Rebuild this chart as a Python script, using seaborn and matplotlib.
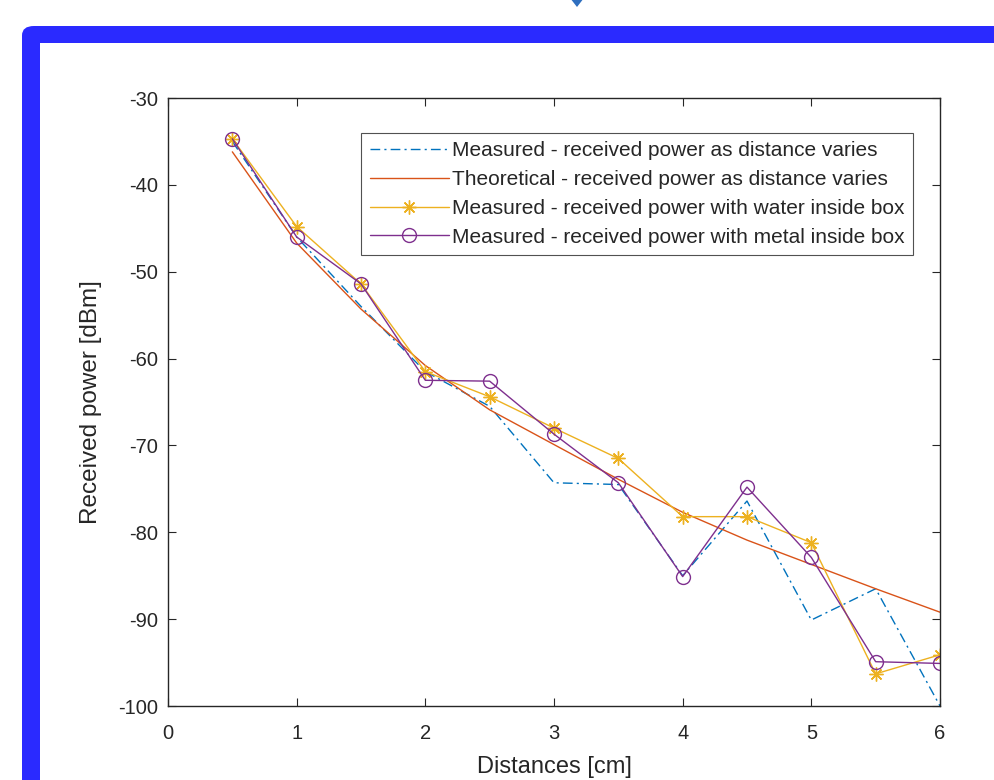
import numpy as np
import pandas as pd
import matplotlib
matplotlib.use("Agg")
import matplotlib.pyplot as plt
import seaborn as sns
from matplotlib.patches import FancyBboxPatch, Rectangle, Polygon

# values
distances = [0.5, 1.0, 1.5, 2.0, 2.5, 3.0, 3.5, 4.0, 4.5, 5.0, 5.5, 6.0]
measured = [-35.0, -46.0, -54.0, -61.5, -65.5, -74.3, -74.5, -85.0, -76.4, -90.1, -86.5, -100.0]
theoretical = [-36.2, -46.7, -54.3, -60.8, -65.9, -69.9, -73.9, -77.7, -80.9, -83.7, -86.5, -89.2]
water = [-34.7, -44.8, -51.4, -61.5, -64.4, -68.0, -71.5, -78.2, -78.2, -81.2, -96.3, -94.1]
metal = [-34.7, -46.0, -51.4, -62.5, -62.6, -68.7, -74.3, -85.1, -74.8, -82.9, -94.9, -95.1]

labels = [
    "Measured - received power as distance varies",
    "Theoretical - received power as distance varies",
    "Measured - received power with water inside box",
    "Measured - received power with metal inside box",
]
x_ticks = [0, 1, 2, 3, 4, 5, 6]
y_ticks = [-30, -40, -50, -60, -70, -80, -90, -100]

sns.set_style("ticks")
plt.rcParams["font.family"] = ["Liberation Sans", "DejaVu Sans"]
plt.rcParams["axes.unicode_minus"] = False

W, H = 994, 780
fig = plt.figure(figsize=(W / 100, H / 100), dpi=100)

# blue screenshot frame
def fx(px):
    return px / W

def fy(py):
    return 1 - py / H

frame = FancyBboxPatch((fx(22), fy(900)), fx(1200), fy(26) - fy(900),
                       boxstyle="round,pad=0,rounding_size=0.012",
                       transform=fig.transFigure, facecolor="#2a2aff", edgecolor="none", zorder=-10)
fig.patches.append(frame)
fig.patches.append(Rectangle((fx(40), fy(900)), fx(1200), fy(43) - fy(900),
                             transform=fig.transFigure, facecolor="white", edgecolor="none", zorder=-9))
fig.patches.append(Polygon([(fx(570), fy(-2)), (fx(577), fy(-10)), (fx(584), fy(-2)), (fx(577), fy(7))],
                           closed=True, transform=fig.transFigure, facecolor="#2f6fbf",
                           edgecolor="none", zorder=-9))

ax = fig.add_axes([fx(168), fy(706), fx(940) - fx(168), fy(98) - fy(706)])

sns.lineplot(x=distances, y=measured, ax=ax, color="#0072BD", linestyle=(0, (7, 3, 1.5, 3)),
             linewidth=1.0, label=labels[0])
sns.lineplot(x=distances, y=theoretical, ax=ax, color="#D95319", linewidth=1.0, label=labels[1])
sns.lineplot(x=distances, y=water, ax=ax, color="#EDB120", linewidth=1.0, marker=(8, 2, 0),
             markersize=10, markeredgewidth=1.0, markeredgecolor="#EDB120", label=labels[2])
sns.lineplot(x=distances, y=metal, ax=ax, color="#7E2F8E", linewidth=1.0, marker="o",
             markersize=10, markerfacecolor="none", markeredgewidth=1.0,
             markeredgecolor="#7E2F8E", label=labels[3])

ax.set_xlim(0, 6)
ax.set_ylim(-100, -30)
ax.set_xticks(x_ticks)
ax.set_yticks(y_ticks)
ax.tick_params(direction="in", length=6, width=0.8, top=True, right=True,
               labelsize=14.5, colors="#262626")
ax.tick_params(axis="x", pad=13)
ax.tick_params(axis="y", pad=7)
for s in ax.spines.values():
    s.set_visible(True)
    s.set_color("#262626")
    s.set_linewidth(1.0)

ax.set_xlabel("Distances [cm]", fontsize=17, color="#262626")
ax.set_ylabel("Received power [dBm]", fontsize=17.5, color="#262626")
ax.xaxis.set_label_coords(0.5, -0.082)
ax.yaxis.set_label_coords(-0.0855, 0.5)

leg = ax.legend(loc="upper right", bbox_to_anchor=(0.965, 0.9424), fontsize=15,
                frameon=True, fancybox=False, edgecolor="#262626", handlelength=3.8,
                handletextpad=0.15, borderpad=0.4, labelspacing=0.47, borderaxespad=0)
leg.get_frame().set_linewidth(0.8)

fig.savefig("out.png", dpi=100)
